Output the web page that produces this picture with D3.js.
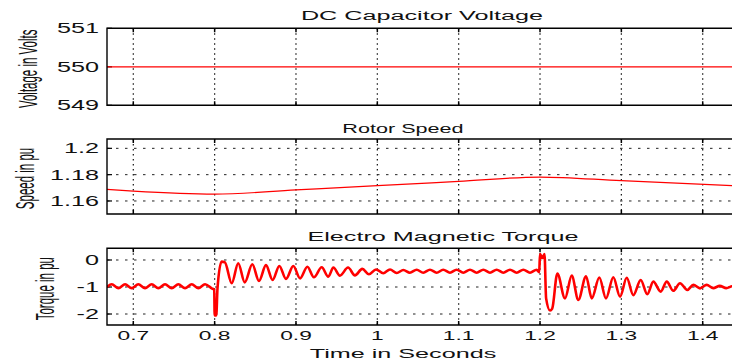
<!DOCTYPE html>
<html>
<head>
<meta charset="utf-8">
<script src="https://cdn.jsdelivr.net/npm/d3@7"></script>
<style>
  body { margin: 0; background: #fff; }
  svg { display: block; }
  text { font-family: "Liberation Sans", Arial, sans-serif; fill: #111; }
</style>
</head>
<body>
<div id="chart"></div>
<script>
// ---- data ----
const xTicks = [0.7, 0.8, 0.9, 1, 1.1, 1.2, 1.3, 1.4];
const xTickLabels = ["0.7", "0.8", "0.9", "1", "1.1", "1.2", "1.3", "1.4"];

const voltageTicks = [549, 550, 551];
const voltageTime = [0.6676, 1.45];
const voltageValue = [550, 550];

const speedTicks = [1.16, 1.18, 1.2];
const speedTime = [0.6676, 0.7, 0.8, 0.9, 1.0, 1.1, 1.2, 1.3, 1.45];
const speedValue = [1.1688, 1.1675, 1.1652, 1.1684, 1.1716, 1.1749, 1.1782, 1.1754, 1.1713];

const torqueTicks = [-2, -1, 0];
const torqueTime = [
  0.6676, 0.6735, 0.6817, 0.6899, 0.6980, 0.7062, 0.7144, 0.7226, 0.7308, 0.7390,
  0.7472, 0.7554, 0.7636, 0.7718, 0.7800, 0.7882, 0.7964, 0.7995, 0.8000, 0.8020,
  0.8035, 0.8085, 0.8125, 0.8210, 0.8290, 0.8370, 0.8463, 0.8545, 0.8631, 0.8713,
  0.8795, 0.8877, 0.8967, 0.9050, 0.9140, 0.9220, 0.9316, 0.9397, 0.9460, 0.9540,
  0.9640, 0.9725, 0.9815, 0.9897, 0.9984, 1.0073, 1.0156, 1.0238, 1.0320, 1.0400,
  1.0484, 1.0565, 1.0647, 1.0729, 1.0810, 1.0893, 1.0975, 1.1057, 1.1139, 1.1221,
  1.1303, 1.1385, 1.1467, 1.1549, 1.1631, 1.1713, 1.1795, 1.1877, 1.1959, 1.1990,
  1.2000, 1.2030, 1.2055, 1.2075, 1.2123, 1.2150, 1.2213, 1.2307, 1.2390, 1.2471,
  1.2566, 1.2636, 1.2729, 1.2811, 1.2901, 1.2984, 1.3066, 1.3147, 1.3238, 1.3319,
  1.3393, 1.3484, 1.3558, 1.3639, 1.3721, 1.3811, 1.3885, 1.3967, 1.4049, 1.4130,
  1.4210, 1.4290, 1.4370, 1.4450
];
const torqueValue = [
  -1.00, -0.90, -1.04, -0.90, -1.04, -0.90, -1.04, -0.90, -1.04, -0.90,
  -1.04, -0.90, -1.04, -0.90, -1.04, -0.90, -1.05, -1.10, -2.05, -2.05,
  -1.05, -0.06, -0.08, -0.86, -0.12, -0.83, -0.16, -0.78, -0.19, -0.74,
  -0.22, -0.70, -0.22, -0.68, -0.25, -0.64, -0.27, -0.62, -0.28, -0.58,
  -0.28, -0.57, -0.33, -0.53, -0.35, -0.49, -0.35, -0.48, -0.37, -0.47,
  -0.36, -0.47, -0.36, -0.47, -0.36, -0.47, -0.36, -0.47, -0.36, -0.47,
  -0.36, -0.47, -0.36, -0.47, -0.36, -0.47, -0.36, -0.47, -0.36, -0.45,
   0.22,  0.08,  0.22, -1.42, -1.87, -1.80, -0.50, -1.42, -0.58, -1.48,
  -0.60, -1.42, -0.65, -1.42, -0.64, -1.36, -0.66, -1.30, -0.74, -1.27,
  -0.80, -1.17, -0.80, -1.14, -0.86, -1.11, -0.92, -1.05, -0.92, -1.04,
  -0.96, -1.04, -0.97, -1.02
];

// ---- layout ----
const width = 732, height = 363;
const left = 107;
const sx = 1.8; // the picture is stretched sideways, text follows it

const svg = d3.select("#chart").append("svg")
  .attr("width", width)
  .attr("height", height);

const x = d3.scaleLinear().domain([0.7, 1.4]).range([133.3, 702.7]);

const panels = [
  { title: "DC Capacitor Voltage", titleX: 422, titleK: 2.1, titleY: 20, ylabel: "Voltage in Volts", labelX: 28,
    top: 28.3, bottom: 105.3, domain: [549, 551], ticks: voltageTicks, fmt: d => d,
    time: voltageTime, value: voltageValue, lw: 1.2, hgrid: false, curve: d3.curveLinear },
  { title: "Rotor Speed", titleX: 403, titleK: 1.8, titleY: 133, ylabel: "Speed in pu", labelX: 25,
    top: 139, bottom: 214, domain: [1.1501, 1.2071], ticks: speedTicks, fmt: d => d,
    time: speedTime, value: speedValue, lw: 1.2, hgrid: true, curve: d3.curveMonotoneX },
  { title: "Electro Magnetic Torque", titleX: 443, titleK: 2.1, titleY: 241, ylabel: "Torque in pu", labelX: 45,
    top: 248.3, bottom: 325, domain: [-2.407, 0.433], ticks: torqueTicks, fmt: d => (d < 0 ? "-" + (-d) : d),
    time: torqueTime, value: torqueValue, lw: 2.6, hgrid: true, curve: d3.curveMonotoneX }
];

function stretched(g, px, py, str, size, k, anchor) {
  return g.append("text")
    .attr("transform", `translate(${px},${py}) scale(${k},1)`)
    .attr("text-anchor", anchor)
    .attr("font-size", size)
    .text(str);
}

panels.forEach((p, i) => {
  const y = d3.scaleLinear().domain(p.domain).range([p.bottom, p.top]);
  const g = svg.append("g");

  g.append("clipPath").attr("id", "clip" + i)
    .append("rect")
    .attr("x", left).attr("y", p.top)
    .attr("width", width - left + 20).attr("height", p.bottom - p.top);

  // grid
  g.selectAll(".vgrid").data(xTicks).enter().append("line")
    .attr("x1", d => x(d)).attr("x2", d => x(d))
    .attr("y1", p.top).attr("y2", p.bottom)
    .attr("stroke", "#111").attr("stroke-width", 1.2)
    .attr("stroke-dasharray", "1.5,3.5");
  if (p.hgrid) {
    g.selectAll(".hgrid").data(p.ticks).enter().append("line")
      .attr("x1", left).attr("x2", width + 10)
      .attr("y1", d => y(d)).attr("y2", d => y(d))
      .attr("stroke", "#222").attr("stroke-width", 1)
      .attr("stroke-dasharray", "2.5,6.5");
  }

  // tick marks inside the box
  g.selectAll(".xt").data(xTicks).enter().append("path")
    .attr("d", d => `M${x(d)},${p.top}v4M${x(d)},${p.bottom}v-4`)
    .attr("stroke", "#000").attr("stroke-width", 1.5);
  g.selectAll(".yt").data(p.ticks).enter().append("path")
    .attr("d", d => `M${left},${y(d)}h5`)
    .attr("stroke", "#000").attr("stroke-width", 1.2);

  // series
  const line = d3.line()
    .curve(p.curve)
    .x(d => x(d[0]))
    .y(d => y(d[1]));
  g.append("path")
    .datum(d3.zip(p.time, p.value))
    .attr("clip-path", `url(#clip${i})`)
    .attr("d", line)
    .attr("fill", "none")
    .attr("stroke", "#ff0000")
    .attr("stroke-width", p.lw)
    .attr("stroke-linejoin", "round");

  // frame (right edge runs off the picture)
  g.append("path")
    .attr("d", `M${width + 5},${p.top}H${left}V${p.bottom}H${width + 5}`)
    .attr("fill", "none").attr("stroke", "#000").attr("stroke-width", 1.4);

  // y tick labels
  p.ticks.forEach(t => {
    stretched(g, 99, y(t), p.fmt(t), 14, sx, "end").attr("dy", "0.36em");
  });

  // title
  stretched(g, p.titleX, p.titleY, p.title, 12, p.titleK, "middle");

  // y label
  g.append("text")
    .attr("transform", `translate(${p.labelX},${(p.top + p.bottom) / 2 + 2}) scale(2.2,1) rotate(-90)`)
    .attr("text-anchor", "middle")
    .attr("dy", "0.35em")
    .attr("font-size", 11.5)
    .text(p.ylabel);

  if (i === panels.length - 1) {
    xTicks.forEach((t, j) => {
      stretched(g, x(t), 339.5, xTickLabels[j], 13, 1.75, "middle");
    });
    stretched(g, 403, 358, "Time in Seconds", 12, 2.1, "middle");
  }
});
</script>
</body>
</html>
